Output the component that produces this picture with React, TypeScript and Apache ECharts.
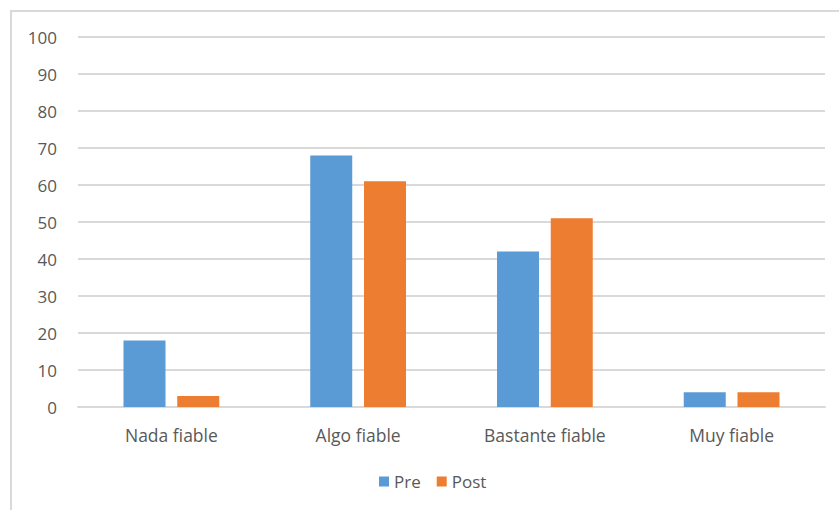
import React, { useEffect, useRef } from "react";
import * as echarts from "echarts";

const categories = ["Nada fiable", "Algo fiable", "Bastante fiable", "Muy fiable"];
const preValues = [18, 68, 42, 4];
const postValues = [3, 61, 51, 4];
const seriesNames = ["Pre", "Post"];

export default function App() {
  const ref = useRef<HTMLDivElement>(null);
  useEffect(() => {
    if (!ref.current) return;
    const chart = echarts.init(ref.current, null, { renderer: "svg" });
    const font = "'Open Sans', sans-serif";
    chart.setOption({
      animation: false,
      backgroundColor: "#ffffff",
      textStyle: { fontFamily: font },
      graphic: [
        {
          type: "rect",
          shape: { x: 11, y: 11, width: 900, height: 600 },
          style: { fill: "none", stroke: "#d9d9d9", lineWidth: 2 },
          silent: true,
        },
      ],
      grid: { left: 78, right: 14, top: 37, bottom: 103 },
      legend: {
        data: seriesNames,
        left: 374,
        top: 468,
        itemWidth: 10,
        itemHeight: 10,
        itemGap: 16,
        icon: "rect",
        textStyle: { color: "#595959", fontSize: 17, fontFamily: font },
      },
      xAxis: {
        type: "category",
        data: categories,
        axisLine: { show: true, lineStyle: { color: "#d9d9d9", width: 2 } },
        axisTick: { show: false },
        axisLabel: { color: "#595959", fontSize: 17.5, margin: 19, fontFamily: font },
      },
      yAxis: {
        type: "value",
        min: 0,
        max: 100,
        interval: 10,
        axisLine: { show: false },
        axisTick: { show: false },
        splitLine: { lineStyle: { color: "#d9d9d9", width: 2 } },
        axisLabel: { color: "#595959", fontSize: 17, margin: 21, fontFamily: font },
      },
      series: [
        {
          name: seriesNames[0],
          type: "bar",
          data: preValues,
          barWidth: 42,
          barGap: "28%",
          itemStyle: { color: "#5B9BD5" },
        },
        {
          name: seriesNames[1],
          type: "bar",
          data: postValues,
          barWidth: 42,
          barGap: "28%",
          itemStyle: { color: "#ED7D31" },
        },
      ],
    });
    return () => chart.dispose();
  }, []);
  return (
    <div
      ref={ref}
      style={{ position: "absolute", left: 0, top: 0, width: 839, height: 510 }}
    />
  );
}
